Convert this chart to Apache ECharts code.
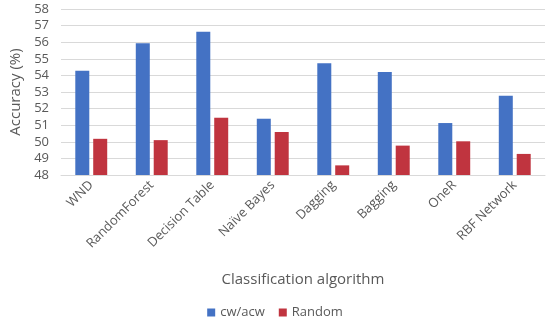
<!DOCTYPE html>
<html><head><meta charset="utf-8">
<script src="https://cdn.jsdelivr.net/npm/echarts@6/dist/echarts.min.js"></script>
<style>html,body{margin:0;padding:0;background:#fff}#c{width:550px;height:325px}</style>
</head><body><div id="c"></div>
<script>
const categories = ['WND','RandomForest','Decision Table','Naïve Bayes','Dagging','Bagging','OneR','RBF Network'];
const cwAcw = [54.28, 55.93, 56.63, 51.39, 54.73, 54.2, 51.13, 52.78];
const randomVals = [50.18, 50.1, 51.45, 50.59, 48.58, 49.77, 50.03, 49.27];
const seriesNames = ['cw/acw','Random'];
const font = '"Open Sans", "Noto Sans", sans-serif';
const chart = echarts.init(document.getElementById('c'));
chart.setOption({
  animation:false,
  textStyle:{fontFamily:font},
  grid:{left:58,right:5,top:9,bottom:150},
  legend:{bottom:1,left:'center',itemWidth:8,itemHeight:8,itemGap:14,icon:'rect',
    textStyle:{fontSize:13,color:'#595959',fontFamily:font},data:seriesNames},
  xAxis:{type:'category',data:categories,
    axisLine:{lineStyle:{color:'#d9d9d9'}},axisTick:{show:false},
    axisLabel:{rotate:45,fontSize:13,color:'#595959',margin:8,interval:0,fontFamily:font},
    name:'Classification algorithm',nameLocation:'middle',nameGap:97,
    nameTextStyle:{fontSize:15,color:'#595959',fontFamily:font}},
  yAxis:{type:'value',min:48,max:58,interval:1,
    axisLine:{show:false},axisTick:{show:false},
    splitLine:{lineStyle:{color:'#d9d9d9'}},
    axisLabel:{fontSize:13,color:'#595959',margin:12,fontFamily:font},
    name:'Accuracy (%)',nameLocation:'middle',nameGap:38,
    nameTextStyle:{fontSize:15,color:'#595959',fontFamily:font}},
  series:[
    {name:seriesNames[0],type:'bar',data:cwAcw,barWidth:14,barGap:'28%',itemStyle:{color:'#4472C4'}},
    {name:seriesNames[1],type:'bar',data:randomVals,barWidth:14,barGap:'28%',itemStyle:{color:'#C0343F'}}
  ]
});
</script></body></html>
